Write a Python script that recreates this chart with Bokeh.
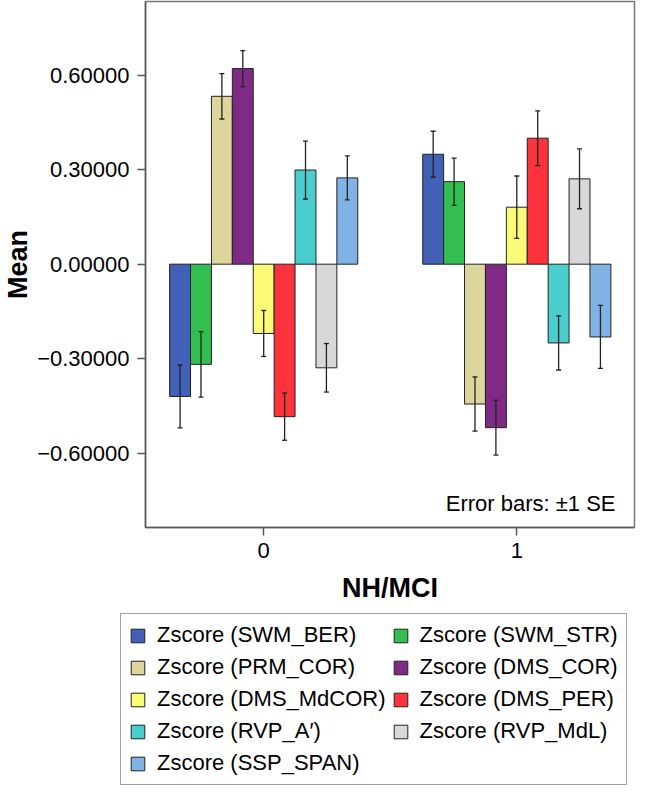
from bokeh.plotting import figure
from bokeh.layouts import column
from bokeh.models import (ColumnDataSource, Range1d, FixedTicker, Whisker, TeeHead,
                          Legend, LegendItem, Label)
from bokeh.embed import file_html
from bokeh.resources import INLINE

# ---- data ----
group_positions = [0, 1]
group_labels = ["0", "1"]
measures = ["SWM_BER", "SWM_STR", "PRM_COR", "DMS_COR", "DMS_MdCOR",
            "DMS_PER", "RVP_A\u2032", "RVP_MdL", "SSP_SPAN"]
colors = ["#4160b6", "#33bf4f", "#dcd69c", "#7f2b86", "#fbfb78",
          "#fc333d", "#4acdcd", "#d8d8d8", "#80b3e3"]
mean_nh = [-0.420, -0.318, 0.533, 0.621, -0.220, -0.484, 0.299, -0.329, 0.274]
se_nh = [0.100, 0.104, 0.072, 0.057, 0.073, 0.075, 0.092, 0.077, 0.070]
mean_mci = [0.349, 0.262, -0.444, -0.519, 0.181, 0.400, -0.250, 0.271, -0.231]
se_mci = [0.073, 0.075, 0.086, 0.087, 0.099, 0.087, 0.086, 0.095, 0.100]
y_ticks = [-0.6, -0.3, 0.0, 0.3, 0.6]
y_tick_labels = ["\u22120.60000", "\u22120.30000", "0.00000", "0.30000", "0.60000"]

FONT = "Liberation Sans"
bar_w = 0.0826
n = len(measures)

p = figure(width=636, height=607, output_backend="svg", toolbar_location=None,
           x_range=Range1d(-0.467, 1.465), y_range=Range1d(-0.836, 0.834),
           min_border_left=145, min_border_right=2, min_border_top=1,
           min_border_bottom=80)
p.frame_align = False
p.background_fill_color = "white"
p.border_fill_color = "white"
p.outline_line_color = "#777777"
p.outline_line_width = 1.5
p.grid.visible = False

wx, wu, wl = [], [], []
for i, (m, c) in enumerate(zip(measures, colors)):
    off = (i - (n - 1) / 2) * bar_w
    xs = [g + off for g in group_positions]
    tops = [mean_nh[i], mean_mci[i]]
    ses = [se_nh[i], se_mci[i]]
    src = ColumnDataSource(dict(x=xs, top=tops))
    p.vbar(x="x", top="top", bottom=0, width=bar_w, source=src,
           fill_color=c, line_color="#222222", line_width=1)
    for x, t, s in zip(xs, tops, ses):
        wx.append(x); wu.append(t + s); wl.append(t - s)

wsrc = ColumnDataSource(dict(base=wx, upper=wu, lower=wl))
wh = Whisker(base="base", upper="upper", lower="lower", source=wsrc,
             line_color="#222222", line_width=1.3, level="annotation",
             upper_head=TeeHead(size=5, line_color="#222222", line_width=1.3),
             lower_head=TeeHead(size=5, line_color="#222222", line_width=1.3))
p.add_layout(wh)

# axes
for ax in (p.xaxis[0], p.yaxis[0]):
    ax.axis_line_color = "#555555"
    ax.axis_line_width = 1.5
    ax.major_tick_line_color = "#555555"
    ax.major_tick_line_width = 1.5
    ax.major_tick_out = 8
    ax.major_tick_in = 0
    ax.minor_tick_line_color = None
    ax.major_label_text_font = FONT
    ax.major_label_text_font_size = "22px"
    ax.major_label_text_color = "black"
    ax.axis_label_text_font = FONT
    ax.axis_label_text_font_size = "27px"
    ax.axis_label_text_font_style = "bold"
    ax.axis_label_text_color = "black"

p.xaxis.ticker = FixedTicker(ticks=group_positions)
p.xaxis.major_label_overrides = {g: l for g, l in zip(group_positions, group_labels)}
p.xaxis.axis_label = "NH/MCI"
p.xaxis.major_label_standoff = 7
p.xaxis.axis_label_standoff = 12

p.yaxis.ticker = FixedTicker(ticks=y_ticks)
p.yaxis.major_label_overrides = {t: l for t, l in zip(y_ticks, y_tick_labels)}
p.yaxis.axis_label = "Mean"
p.yaxis.major_label_standoff = 8
p.yaxis.axis_label_standoff = 1

p.add_layout(Label(x=1.39, y=-0.76, text="Error bars: \u00b11 SE",
                   text_font=FONT, text_font_size="22px", text_color="black",
                   text_align="right", text_baseline="alphabetic"))

# ---- legend figure ----
lf = figure(width=636, height=180, output_backend="svg", toolbar_location=None,
            x_axis_type=None, y_axis_type=None,
            x_range=Range1d(0, 1), y_range=Range1d(0, 1),
            min_border_left=0, min_border_right=0, min_border_top=0,
            min_border_bottom=0)
lf.frame_align = False
lf.outline_line_color = None
lf.grid.visible = False
items = []
for m, c in zip(measures, colors):
    r = lf.vbar(x=[10], top=[10], bottom=[9], width=0.1, fill_color=c,
                line_color="#222222", line_width=1)
    items.append(LegendItem(label="Zscore (%s)" % m, renderers=[r]))

legend = Legend(items=items, ncols=2, orientation="horizontal",
                location=(120, 2),
                label_text_font=FONT, label_text_font_size="22px",
                label_text_color="black",
                glyph_width=17, glyph_height=17, label_standoff=11,
                spacing=6, padding=8, margin=0,
                border_line_color="#444444", border_line_width=1.5,
                background_fill_alpha=1.0)
lf.add_layout(legend)

layout = column(p, lf, spacing=0)
open("out.html", "w").write(file_html(layout, INLINE))
